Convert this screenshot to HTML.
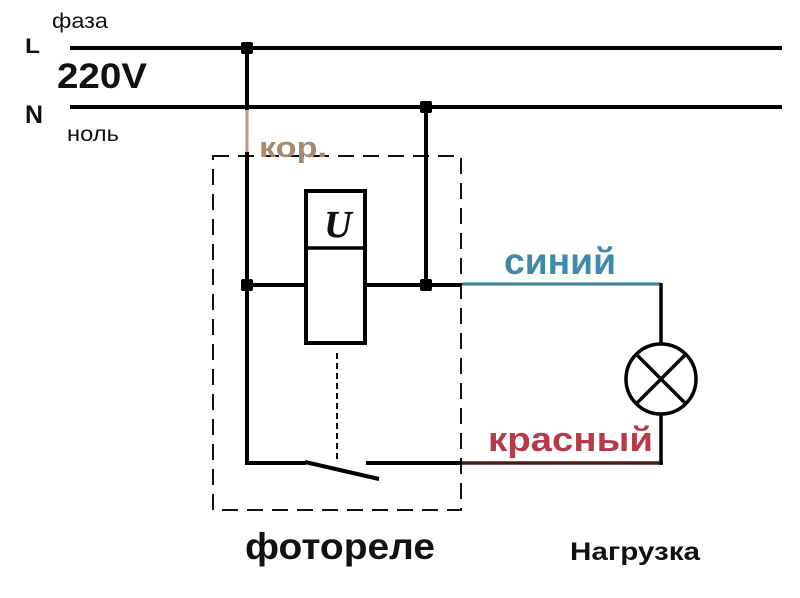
<!DOCTYPE html>
<html><head><meta charset="utf-8">
<style>
html,body{margin:0;padding:0;background:#fff;}
svg{display:block;}
text{font-family:"Liberation Sans","DejaVu Sans",sans-serif;}
</style></head>
<body>
<svg width="800" height="598" viewBox="0 0 800 598" xmlns="http://www.w3.org/2000/svg">
<rect width="800" height="598" fill="#fff"/>
<!-- dashed box -->
<rect x="213" y="156" width="248" height="354" fill="none" stroke="#111" stroke-width="2" stroke-dasharray="16 9"/>
<!-- L and N lines -->
<line x1="70" y1="48" x2="782" y2="48" stroke="#000" stroke-width="4"/>
<line x1="70" y1="107" x2="782" y2="107" stroke="#000" stroke-width="4"/>
<!-- L vertical -->
<line x1="247" y1="48" x2="247" y2="110" stroke="#000" stroke-width="4"/>
<line x1="247" y1="110" x2="247" y2="152" stroke="#b89a88" stroke-width="3"/>
<line x1="247" y1="152" x2="247" y2="465" stroke="#000" stroke-width="4"/>
<!-- N vertical -->
<line x1="426" y1="107" x2="426" y2="286" stroke="#000" stroke-width="4"/>
<!-- horizontal at 284 -->
<line x1="247" y1="285" x2="305" y2="285" stroke="#000" stroke-width="4"/>
<line x1="366" y1="285" x2="462" y2="285" stroke="#000" stroke-width="4"/>
<line x1="462" y1="284" x2="661" y2="284" stroke="#3a8294" stroke-width="3"/>
<!-- relay box -->
<rect x="306" y="191" width="59" height="152" fill="#fff" stroke="#000" stroke-width="4"/>
<line x1="306" y1="248" x2="365" y2="248" stroke="#000" stroke-width="3.5"/>
<text x="338" y="237" style="font-family:'Liberation Serif',serif;font-style:italic;font-weight:bold;font-size:38px" text-anchor="middle" fill="#111" stroke="#111" stroke-width="0.3">U</text>
<!-- dotted link -->
<line x1="337" y1="353" x2="337" y2="461" stroke="#000" stroke-width="2" stroke-dasharray="6 4"/>
<!-- bottom wire and switch -->
<line x1="245" y1="463" x2="306" y2="463" stroke="#000" stroke-width="4"/>
<line x1="305" y1="462" x2="379" y2="479" stroke="#000" stroke-width="4"/>
<line x1="366" y1="463" x2="462" y2="463" stroke="#000" stroke-width="4"/>
<line x1="462" y1="463" x2="663" y2="463" stroke="#4a1c1c" stroke-width="3.5"/>
<!-- lamp -->
<line x1="661" y1="283" x2="661" y2="343" stroke="#000" stroke-width="3.5"/>
<line x1="661" y1="415" x2="661" y2="465" stroke="#000" stroke-width="3.5"/>
<circle cx="661" cy="379" r="35" fill="#fff" stroke="#000" stroke-width="3.5"/>
<line x1="636.3" y1="354.3" x2="685.7" y2="403.7" stroke="#000" stroke-width="3.5"/>
<line x1="685.7" y1="354.3" x2="636.3" y2="403.7" stroke="#000" stroke-width="3.5"/>
<!-- junction dots -->
<rect x="241" y="42" width="12" height="12" rx="2" fill="#000"/>
<rect x="420" y="101" width="12" height="12" rx="2" fill="#000"/>
<rect x="241" y="279" width="12" height="12" rx="2" fill="#000"/>
<rect x="420" y="279" width="12" height="12" rx="2" fill="#000"/>
<!-- labels -->
<text x="25" y="53" font-size="21" font-weight="bold" fill="#111" textLength="15" lengthAdjust="spacingAndGlyphs">L</text>
<text x="52" y="28" font-size="21" fill="#111" textLength="56" lengthAdjust="spacingAndGlyphs">фаза</text>
<text x="57" y="88" font-size="35" font-weight="bold" fill="#111" textLength="90" lengthAdjust="spacingAndGlyphs">220V</text>
<text x="25" y="123" font-size="25" font-weight="bold" fill="#111" textLength="18" lengthAdjust="spacingAndGlyphs">N</text>
<text x="67" y="141" font-size="21" fill="#111" textLength="52" lengthAdjust="spacingAndGlyphs">ноль</text>
<text x="259" y="157" font-size="29" font-weight="bold" fill="#a88a70" textLength="68" lengthAdjust="spacingAndGlyphs">кор.</text>
<text x="504" y="274" font-size="37" font-weight="bold" fill="#3f8aa8" textLength="112" lengthAdjust="spacingAndGlyphs">синий</text>
<text x="488" y="451" font-size="34" font-weight="bold" fill="#b8394a" textLength="165" lengthAdjust="spacingAndGlyphs">красный</text>
<text x="245" y="559" font-size="37" font-weight="bold" fill="#111" textLength="190" lengthAdjust="spacingAndGlyphs">фотореле</text>
<text x="570" y="560" font-size="25" font-weight="bold" fill="#111" textLength="130" lengthAdjust="spacingAndGlyphs">Нагрузка</text>
</svg>
</body></html>
